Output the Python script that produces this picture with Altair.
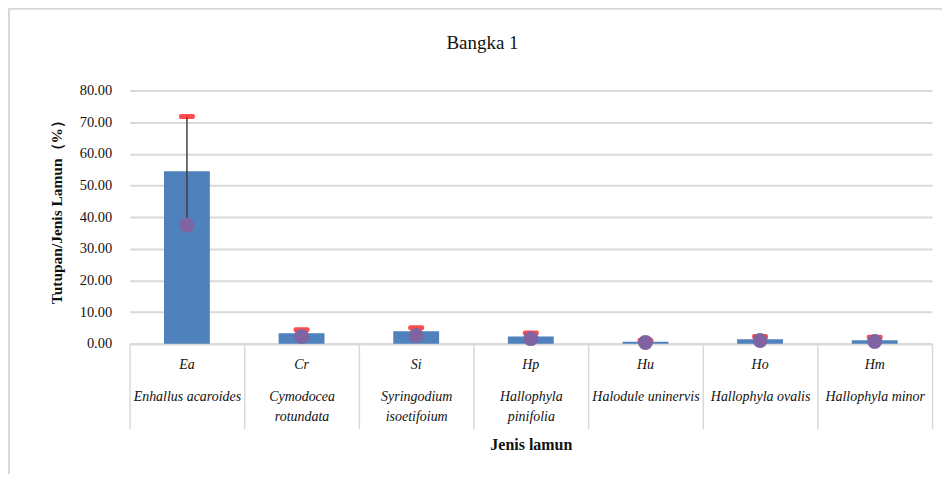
import altair as alt
import pandas as pd

abbr = ["Ea", "Cr", "Si", "Hp", "Hu", "Ho", "Hm"]
names = ["Enhallus acaroides", "Cymodocea|rotundata", "Syringodium|isoetifoium",
         "Hallophyla|pinifolia", "Halodule uninervis", "Hallophyla ovalis", "Hallophyla minor"]
mean_vals = [54.5, 3.3, 3.9, 2.3, 0.6, 1.4, 1.1]
max_vals = [71.8, 4.4, 5.0, 3.4, 1.0, 2.3, 2.0]
min_vals = [37.4, 2.3, 2.6, 1.6, 0.4, 1.0, 0.7]
y_ticks = [0, 10, 20, 30, 40, 50, 60, 70, 80]
chart_title = "Bangka 1"

keys = [a + "|" + n for a, n in zip(abbr, names)]
df = pd.DataFrame({"key": keys, "abbr": abbr, "mean": mean_vals,
                   "max": max_vals, "min": min_vals})

SERIF = "Liberation Serif"
GRID = "#D9D9D9"

x_axis = alt.Axis(
    labelExpr="slice(split(datum.label, '|'), 1)",
    labelAngle=0, labelFont=SERIF, labelFontSize=14,
    labelFontStyle="italic", labelColor="#111",
    labelLineHeight=20, labelBaseline="top",
    labelPadding=-39, tickBand="extent", tickSize=85,
    tickColor=GRID, tickWidth=1.5,
    domainColor=GRID, domainWidth=2,
    titleFont=SERIF, titleFontSize=16, titleFontWeight="bold",
    titleColor="#111", titleY=101, titleBaseline="middle",
    labelOverlap=False)

y_axis = alt.Axis(values=y_ticks, tickCount=9, format=".2f", grid=True,
                  gridColor=GRID, gridWidth=2, domain=False,
                  ticks=False, labelPadding=18, labelFont=SERIF,
                  labelFontSize=14.5, labelColor="#111",
                  labelOverlap=False,
                  titleFont=SERIF, titleFontSize=15.5,
                  titleFontWeight="bold", titleColor="#111",
                  titleAngle=270, titleX=-73, titleY=118,
                  titleAlign="center", titleBaseline="middle")

y_scale = alt.Scale(domain=[0, 80], nice=False)
Y_TITLE = "Tutupan/Jenis Lamun（%）"

xe = alt.X("key:N", sort=keys, title="Jenis lamun",
           scale=alt.Scale(paddingInner=0, paddingOuter=0), axis=x_axis)

bars = alt.Chart(df).mark_bar(size=46, color="#4F81BD").encode(
    x=xe, y=alt.Y("mean:Q", scale=y_scale, title=Y_TITLE, axis=y_axis))

rule = alt.Chart(df).mark_rule(color="#404040", strokeWidth=1.5).encode(
    x=xe, y=alt.Y("min:Q", scale=y_scale, title=Y_TITLE, axis=y_axis), y2="max:Q")

ticks = alt.Chart(df).mark_tick(color="#FF0000", size=16, thickness=5,
                                cornerRadius=2).encode(
    x=xe, y=alt.Y("max:Q", scale=y_scale, title=Y_TITLE, axis=y_axis))

dots = alt.Chart(df).mark_circle(color="#8064A2", size=225, opacity=1).encode(
    x=xe, y=alt.Y("min:Q", scale=y_scale, title=Y_TITLE, axis=y_axis))

abbr_text = alt.Chart(df).mark_text(font=SERIF, fontSize=14, fontStyle="italic",
                                    color="#111", baseline="middle").encode(
    x=xe, y=alt.value(275), text="abbr:N")

one = pd.DataFrame({"t": [chart_title]})

frame = alt.Chart(one).mark_rect(
    fill="white", fillOpacity=0, stroke=GRID, strokeWidth=2).encode(
    x=alt.value(-121), x2=alt.value(1100), y=alt.value(-82), y2=alt.value(700))

title_text = alt.Chart(one).mark_text(font=SERIF, fontSize=19, color="#111",
                                      baseline="alphabetic", align="center").encode(
    x=alt.value(354), y=alt.value(-42), text="t:N")

chart = alt.layer(frame, bars, rule, ticks, dots, abbr_text, title_text).properties(
    width=805, height=254,
    autosize=alt.AutoSizeParams(type="none"),
    padding={"left": 122, "top": 82, "right": 10, "bottom": 130},
).configure_view(stroke=None)

chart.save("out.html", embed_options={"renderer": "svg", "actions": False})
